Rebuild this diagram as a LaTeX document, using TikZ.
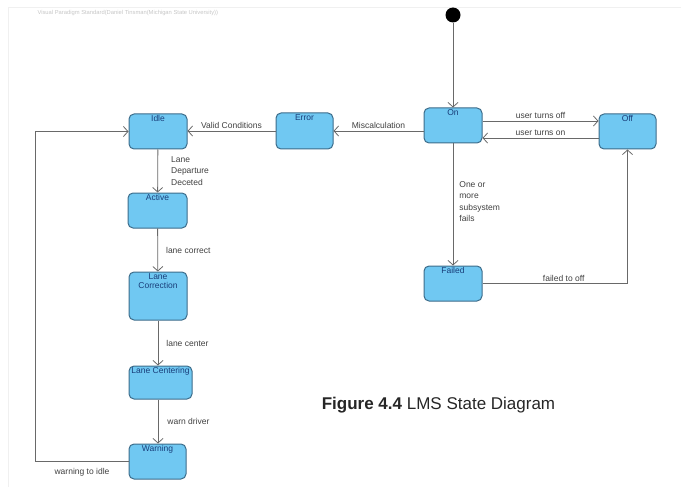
\documentclass[tikz,border=0pt]{standalone}
\usepackage{fontspec}
\setmainfont{Liberation Sans}
\usetikzlibrary{arrows.meta}
\definecolor{statefill}{RGB}{112,200,242}
\definecolor{stateline}{RGB}{60,108,138}
\definecolor{statetext}{RGB}{25,62,122}
\definecolor{lineclr}{RGB}{105,105,105}
\begin{document}
\begin{tikzpicture}[x=1pt, y=-1pt, >={Straight Barb[length=4.5pt,width=10pt]},
    state/.style={draw=stateline, fill=statefill, rounded corners=5pt, line width=1pt,
      minimum width=58pt, minimum height=35pt, inner sep=0pt},
    statename/.style={anchor=north, font=\fontsize{8.5}{9}\selectfont, text=statetext,
      align=center, inner sep=1.5pt},
    trans/.style={->, draw=lineclr, line width=0.8pt},
    lbl/.style={font=\fontsize{8.5}{11.5}\selectfont, text=black!75, inner sep=2pt}]
  \useasboundingbox (0,0) rectangle (681,487);
  % faint diagram frame and header
  \draw[gray!12] (8,487) -- (8,7) -- (681,7);
  \node[font=\fontsize{5.8}{6}\selectfont, text=gray!45, anchor=west] (header) at (34,13)
    {Visual Paradigm Standard(Daniel Tinsman(Michigan State University))};
  % states
  \node[circle, fill=black, minimum size=15pt, inner sep=0pt] (init) at (453,15) {};
  \node[state, label={[statename]north:On}] (on) at (453,125.5) {};
  \node[state, minimum width=57pt, label={[statename]north:Off}] (off) at (627.5,131.5) {};
  \node[state, minimum width=57pt, minimum height=36pt, label={[statename]north:Error}] (error) at (304.5,131) {};
  \node[state, label={[statename]north:Idle}] (idle) at (158,131.5) {};
  \node[state, minimum width=59pt, label={[statename]north:Active}] (active) at (157.5,210.5) {};
  \node[state, minimum height=48pt, label={[statename]north:Lane\\Correction}] (lanecorr) at (158,296) {};
  \node[state, minimum width=63pt, minimum height=33pt, label={[statename]north:Lane Centering}] (lanecent) at (160.5,382.5) {};
  \node[state, minimum width=57pt, label={[statename]north:Warning}] (warning) at (157.5,461.5) {};
  \node[state, label={[statename]north:Failed}] (failed) at (453,283.5) {};
  % transitions
  \draw[trans] (init) -- (on);
  \draw[trans] ([yshift=4.5pt]on.east) -- node[lbl, above] {user turns off} ([yshift=10.5pt]off.west);
  \draw[trans] ([yshift=-6.5pt]off.west) -- node[lbl, above] {user turns on} ([yshift=-12.5pt]on.east);
  \draw[trans] (on.west |- error.east) -- node[lbl, above] {Miscalculation} (error.east);
  \draw[trans] (error.west) -- node[lbl, above] {Valid Conditions} (idle.east |- error.west);
  \draw[trans] (idle) -- node[lbl, right, align=left, xshift=11pt] {Lane\\Departure\\Deceted} (active);
  \draw[trans] (active) -- node[lbl, right, xshift=6pt] {lane correct} (lanecorr);
  \draw[trans] (lanecorr) -- node[lbl, right, xshift=6pt] {lane center} (lanecorr.south |- lanecent.north);
  \draw[trans] (lanecorr.south |- lanecent.south) -- node[lbl, right, xshift=7pt] {warn driver} (lanecorr.south |- warning.north);
  \draw[trans] (warning.west) -- node[lbl, below, yshift=-4pt] {warning to idle} ++(-93,0) |- (idle.west);
  \draw[trans] (on) -- node[lbl, right, align=left, xshift=4pt, yshift=3pt] {One or\\more\\subsystem\\fails} (failed);
  \draw[trans] (failed.east) -| node[lbl, above, pos=0.28] {failed to off} (off.south);
  % caption
  \node[font=\fontsize{17}{20}\selectfont, text=black!85] (caption) at (438.5,405)
    {\textbf{Figure 4.4} LMS State Diagram};
\end{tikzpicture}
\end{document}
